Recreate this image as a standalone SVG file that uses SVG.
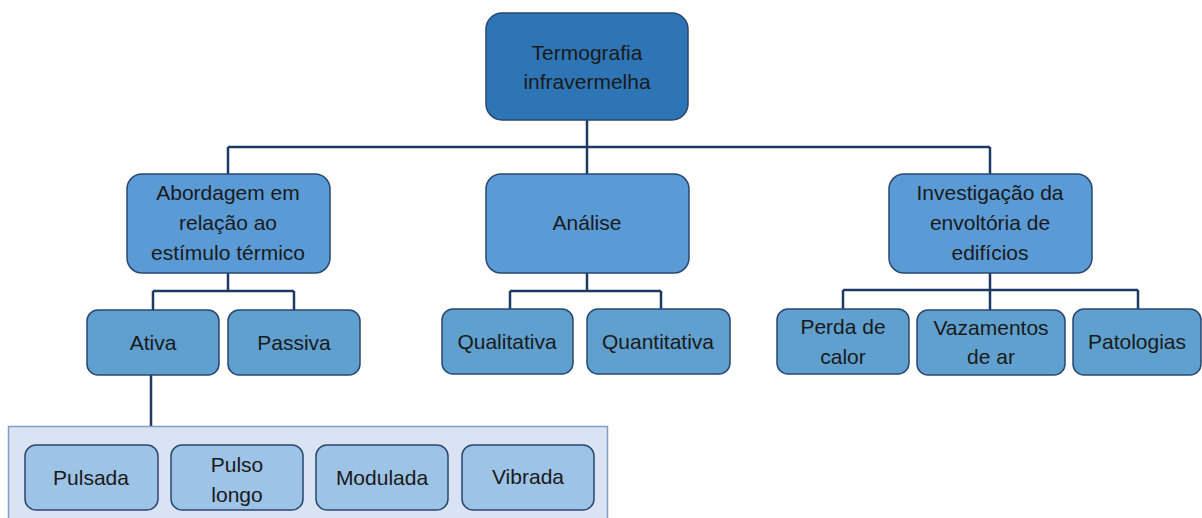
<svg xmlns="http://www.w3.org/2000/svg" width="1202" height="518" viewBox="0 0 1202 518">
<style>
.n rect{stroke:#2a4770;stroke-width:1.5}
.l0{fill:#2e75b6}
.l1{fill:#5b9bd5}
.l2{fill:#5fa0cf}
.l3{fill:#9dc3e6}
text{font-family:"Liberation Sans",Arial,sans-serif;font-size:21px;fill:#1a1a1a;text-anchor:middle}
.c{fill:none;stroke:#1f3864;stroke-width:2.5}
</style>
<rect x="0" y="0" width="1202" height="518" fill="#ffffff"/>
<g id="connectors">
<path class="c" d="M587 120V147M228 147H990M228 147V174M587 147V174M990 147V174"/>
<path class="c" d="M228 273V291M153 291H294M153 291V310M294 291V310"/>
<path class="c" d="M587 273V291M510 291H661M510 291V309M661 291V309"/>
<path class="c" d="M990 273V290M843 290H1138M843 290V309M990 290V310M1138 290V309"/>
<path class="c" d="M151 375V426"/>
</g>
<g id="container">
<rect x="8.5" y="426.5" width="599" height="100" fill="#dae3f3" stroke="#7f9fc6" stroke-width="1.5"/>
</g>
<g id="root" class="n"><rect class="l0" x="486" y="13" width="202" height="107" rx="16"/><text x="587" y="60">Termografia</text><text x="587" y="89">infravermelha</text></g>
<g id="abordagem" class="n"><rect class="l1" x="127" y="174" width="203" height="99" rx="15"/><text x="228" y="200">Abordagem em</text><text x="228" y="230">relação ao</text><text x="228" y="260">estímulo térmico</text></g>
<g id="analise" class="n"><rect class="l1" x="486" y="174" width="203" height="99" rx="15"/><text x="587" y="230">Análise</text></g>
<g id="investigacao" class="n"><rect class="l1" x="889" y="174" width="203" height="99" rx="15"/><text x="990" y="200">Investigação da</text><text x="990" y="230">envoltória de</text><text x="990" y="260">edifícios</text></g>
<g id="ativa" class="n"><rect class="l2" x="87" y="310" width="132" height="65" rx="11"/><text x="153" y="350">Ativa</text></g>
<g id="passiva" class="n"><rect class="l2" x="228" y="310" width="132" height="65" rx="11"/><text x="294" y="350">Passiva</text></g>
<g id="qualitativa" class="n"><rect class="l2" x="442" y="309" width="131" height="65" rx="11"/><text x="507" y="349">Qualitativa</text></g>
<g id="quantitativa" class="n"><rect class="l2" x="587" y="309" width="143" height="65" rx="11"/><text x="658" y="349">Quantitativa</text></g>
<g id="perda" class="n"><rect class="l2" x="777" y="309" width="132" height="65" rx="11"/><text x="843" y="334">Perda de</text><text x="843" y="364">calor</text></g>
<g id="vazamentos" class="n"><rect class="l2" x="917" y="310" width="148" height="65" rx="11"/><text x="991" y="335">Vazamentos</text><text x="991" y="364">de ar</text></g>
<g id="patologias" class="n"><rect class="l2" x="1073" y="309" width="128" height="66" rx="11"/><text x="1137" y="349">Patologias</text></g>
<g id="pulsada" class="n"><rect class="l3" x="25" y="445" width="133" height="65" rx="11"/><text x="91" y="485">Pulsada</text></g>
<g id="pulso-longo" class="n"><rect class="l3" x="171" y="445" width="132" height="65" rx="11"/><text x="237" y="472">Pulso</text><text x="237" y="502">longo</text></g>
<g id="modulada" class="n"><rect class="l3" x="316" y="445" width="132" height="65" rx="11"/><text x="382" y="485">Modulada</text></g>
<g id="vibrada" class="n"><rect class="l3" x="462" y="445" width="132" height="65" rx="11"/><text x="528" y="484">Vibrada</text></g>
</svg>
